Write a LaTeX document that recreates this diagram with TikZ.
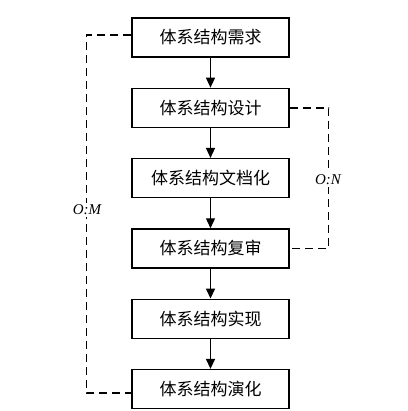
\documentclass[tikz,border=0pt]{standalone}
\usepackage{fontspec}
\setmainfont{Liberation Serif}
\newfontfamily\cjk{Noto Sans CJK SC}
\usetikzlibrary{arrows.meta,positioning}

\begin{document}
\begin{tikzpicture}[
  x=1pt,y=1pt,
  >={Triangle[length=10pt,width=9pt]},
  stage/.style={draw,line width=1.3pt,minimum width=157pt,minimum height=39pt,
    inner sep=0pt,font=\cjk\fontsize{17}{19}\selectfont},
  flow/.style={->,line width=1.4pt},
  fbline/.style={line width=1.5pt,dash pattern=on 8pt off 5pt},
  fblabel/.style={fill=white,inner sep=2pt,font=\itshape\fontsize{15}{17}\selectfont},
  node distance=30pt
]
  \useasboundingbox (0,0) rectangle (407,-411);
  \node[stage] (req) at (210.5,-37.5) {体系结构需求};
  \node[stage,below=of req] (des) {体系结构设计};
  \node[stage,below=of des] (doc) {体系结构文档化};
  \node[stage,below=of doc] (rev) {体系结构复审};
  \node[stage,below=of rev] (imp) {体系结构实现};
  \node[stage,below=of imp] (evo) {体系结构演化};

  \draw[flow] (req) -- (des);
  \draw[flow] (des) -- (doc);
  \draw[flow] (doc) -- (rev);
  \draw[flow] (rev) -- (imp);
  \draw[flow] (imp) -- (evo);

  % feedback loops
  \draw[fbline] ([yshift=2.5pt]req.west) -- ++(-45,0) |- ([yshift=-4pt]evo.west);
  \draw[fbline] (des.east) -- ++(39,0) |- (rev.east);
  \node[fblabel] (om) at (87,-210) {O:M};
  \node[fblabel] (on) at (328,-180) {O:N};
\end{tikzpicture}
\end{document}
